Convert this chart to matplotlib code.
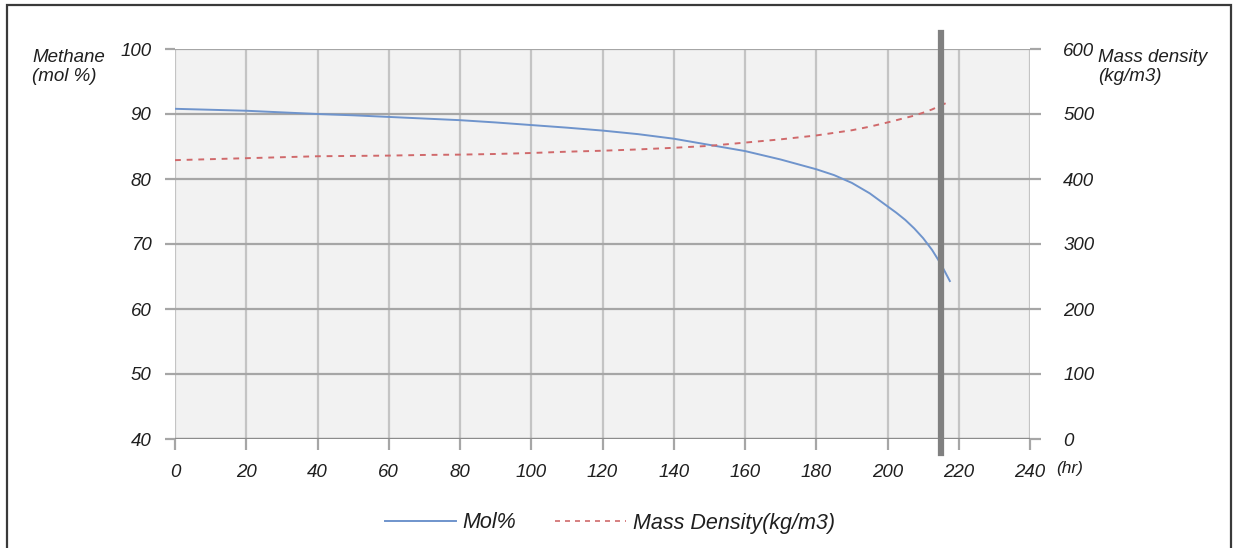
import matplotlib.pyplot as plt
from matplotlib.lines import Line2D
from matplotlib.patches import Rectangle

# methane content of the cargo (mol %) over time
hoursMol = [0, 10, 20, 30, 40, 50, 60, 70, 80, 90, 100, 110, 120, 130, 140,
            150, 160, 170, 180, 185, 190, 195, 200, 202.5, 205, 207.5, 210,
            212.5, 215, 217.5]
molPercent = [90.8, 90.65, 90.5, 90.25, 90.0, 89.8, 89.55, 89.3, 89.05, 88.7,
              88.3, 87.9, 87.45, 86.9, 86.2, 85.25, 84.3, 83.0, 81.5, 80.6,
              79.4, 77.8, 75.8, 74.8, 73.7, 72.4, 70.9, 69.1, 66.9, 64.3]

# liquid mass density (kg/m3) over time
hoursDen = [0, 10, 20, 30, 40, 50, 60, 70, 80, 90, 100, 110, 120, 130, 140,
            150, 160, 170, 180, 190, 195, 200, 202.5, 205, 207.5, 210, 212.5,
            216.5]
massDensity = [429, 430.5, 432, 433.5, 435, 435.5, 436, 437, 437.5, 438.5,
               440, 442, 443.5, 445.5, 448, 451, 456, 461, 467, 475, 480.5,
               487, 490.5, 494, 497.5, 502, 507, 517]

cutoffHour = 215

xTicks = list(range(0, 241, 20))
leftTicks = list(range(40, 101, 10))
rightTicks = list(range(0, 601, 100))

blueColor = '#6f94cc'
redColor = '#d0696b'
hGridColor = '#a6a6a6'
vGridColor = '#c4c4c4'
textColor = '#1f1f1f'
fontSize = 13

plt.rcParams['font.family'] = ['Liberation Sans', 'DejaVu Sans']
plt.rcParams['font.style'] = 'italic'

fig = plt.figure(figsize=(12.33, 5.48), dpi=100)
W, H = 1233, 548

# outer frame of the chart
fig.patches.append(Rectangle((7 / W, -0.05), (1231 - 7) / W, (548 - 5) / H + 0.05,
                             transform=fig.transFigure, fill=False,
                             edgecolor='#3a3a3a', linewidth=1.6, zorder=0))

ax = fig.add_axes([175 / W, 1 - 439 / H, (1030 - 175) / W, (439 - 49) / H])
ax.set_facecolor('#f2f2f2')
ax.set_xlim(0, 240)
ax.set_ylim(40, 100)

for xv in xTicks:
    ax.axvline(xv, color=vGridColor, linewidth=1.6, zorder=1)
for yv in leftTicks:
    ax.axhline(yv, color=hGridColor, linewidth=1.6, zorder=1)

for s in ax.spines.values():
    s.set_visible(False)

ax.set_xticks(xTicks)
ax.set_yticks(leftTicks)
ax.tick_params(axis='x', length=8, width=1.6, color=hGridColor, pad=10,
               labelsize=fontSize + 0.5, labelcolor=textColor)
ax.tick_params(axis='y', length=7, width=1.6, color=hGridColor, pad=10,
               labelsize=fontSize + 0.5, labelcolor=textColor)
ax.axhline(40, color='#8c8c8c', linewidth=1.6, zorder=2)

ax.plot(hoursMol, molPercent, color=blueColor, linewidth=1.4, zorder=4)

ax2 = ax.twinx()
ax2.set_ylim(0, 600)
ax2.set_yticks(rightTicks)
for s in ax2.spines.values():
    s.set_visible(False)
ax2.tick_params(axis='y', length=8, width=1.6, color=hGridColor, pad=16,
                labelsize=fontSize + 0.5, labelcolor=textColor)
ax2.plot(hoursDen, massDensity, color=redColor, linewidth=1.4,
         linestyle=(0, (3, 3)), zorder=4)

# end of the voyage marker
ax2.axvline(cutoffHour, ymin=-0.036, ymax=1.041, color='#808080',
            linewidth=4.5, clip_on=False, zorder=5)

# axis titles
fig.text(32 / W, 1 - 67 / H, 'Methane\n(mol %)', fontsize=fontSize + 0.5,
         color=textColor, ha='left', va='center', linespacing=1.1)
fig.text(1098 / W, 1 - 67 / H, 'Mass density\n(kg/m3)', fontsize=fontSize + 0.5,
         color=textColor, ha='left', va='center', linespacing=1.1)
fig.text(1070 / W, 1 - 468 / H, '(hr)', fontsize=fontSize - 0.5,
         color=textColor, ha='center', va='center')

handles = [Line2D([], [], color=blueColor, linewidth=1.4),
           Line2D([], [], color=redColor, linewidth=1.2, linestyle=(0, (3, 3)))]
fig.legend(handles, ['Mol%', 'Mass Density(kg/m3)'], loc='center',
           bbox_to_anchor=(610 / W, 1 - 523 / H), ncol=2, frameon=False,
           fontsize=15.5, handlelength=3.3, handletextpad=0.3,
           columnspacing=1.8, labelcolor=textColor)

fig.savefig('out.png', dpi=100)
